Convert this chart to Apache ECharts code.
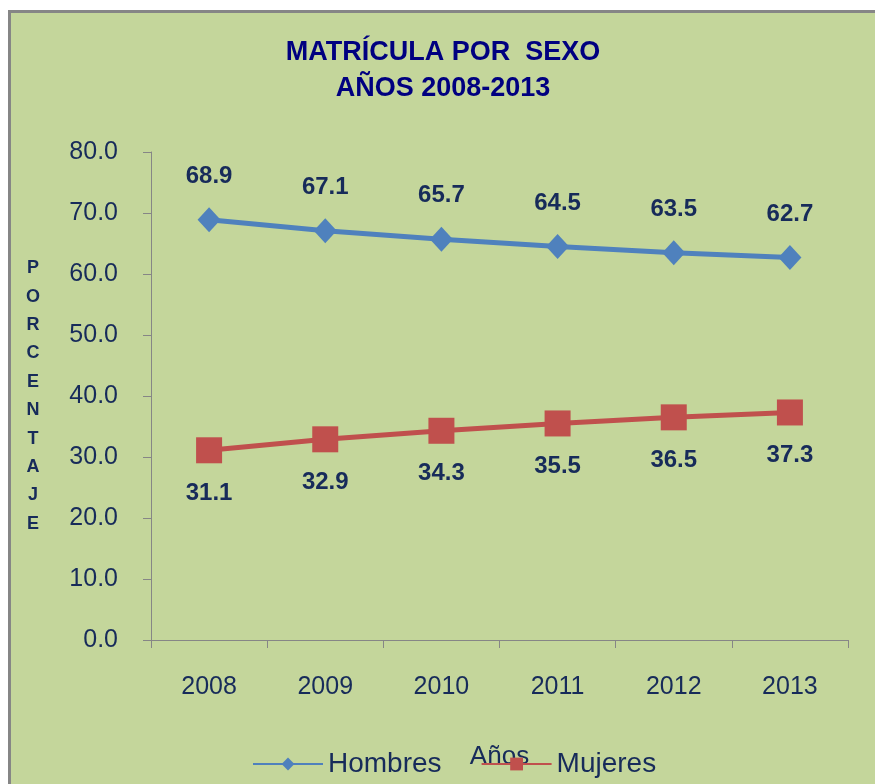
<!DOCTYPE html>
<html>
<head>
<meta charset="utf-8">
<script src="https://cdn.jsdelivr.net/npm/echarts@6/dist/echarts.min.js"></script>
<style>
  html, body { margin: 0; padding: 0; background: #ffffff; width: 875px; height: 784px; overflow: hidden; }
  #frame { position: absolute; left: 8px; top: 10px; width: 864px; height: 771px;
           border-left: 3px solid #868686; border-top: 3px solid #868686; background: #C4D69B; }
  #chart { width: 864px; height: 771px; }
</style>
</head>
<body>
<div id="frame"><div id="chart"></div></div>
<script>
const categories = ['2008', '2009', '2010', '2011', '2012', '2013'];
const hombres = [68.9, 67.1, 65.7, 64.5, 63.5, 62.7];
const mujeres = [31.1, 32.9, 34.3, 35.5, 36.5, 37.3];
const yTicks = { min: 0, max: 80, interval: 10 };

const navy = '#172B5A';
const font = 'Liberation Sans, Arial, sans-serif';

const chart = echarts.init(document.getElementById('chart'));
chart.setOption({
  backgroundColor: '#C4D69B',
  animation: false,
  textStyle: { fontFamily: font },
  title: {
    text: 'MATRÍCULA POR  SEXO\nAÑOS 2008-2013',
    left: 'center',
    top: 22,
    padding: 0,
    textStyle: { fontFamily: font, fontWeight: 'bold', fontSize: 27, color: '#000080', lineHeight: 36 }
  },
  legend: {
    data: ['Hombres', 'Mujeres'],
    left: 241,
    top: 737,
    itemWidth: 70,
    itemHeight: 16,
    itemGap: 39,
    padding: 0,
    textStyle: { fontFamily: font, fontSize: 28, color: navy, padding: [0, 0, 0, 0] }
  },
  grid: { left: 140, top: 139, right: 27, bottom: 144, containLabel: false },
  xAxis: {
    type: 'category',
    data: categories,
    boundaryGap: true,
    name: 'Años',
    nameLocation: 'middle',
    nameGap: 104,
    nameTextStyle: { fontFamily: font, fontSize: 26, color: navy },
    axisLine: { lineStyle: { color: '#868686', width: 1 } },
    axisTick: { show: true, length: 8, alignWithLabel: false, lineStyle: { color: '#868686' } },
    axisLabel: { fontFamily: font, fontSize: 25, color: navy, margin: 35 },
    splitLine: { show: false }
  },
  yAxis: {
    type: 'value',
    min: yTicks.min,
    max: yTicks.max,
    interval: yTicks.interval,
    name: 'P\nO\nR\nC\nE\nN\nT\nA\nJ\nE',
    nameLocation: 'middle',
    nameRotate: 0,
    nameGap: 118,
    nameTextStyle: { fontFamily: font, fontWeight: 'bold', fontSize: 18, color: navy, lineHeight: 28.4, align: 'center', verticalAlign: 'middle' },
    axisLine: { show: true, lineStyle: { color: '#868686', width: 1 } },
    axisTick: { show: true, length: 8, lineStyle: { color: '#868686' } },
    axisLabel: { fontFamily: font, fontSize: 25, color: navy, margin: 33, formatter: v => v.toFixed(1) },
    splitLine: { show: false }
  },
  series: [
    {
      name: 'Hombres',
      type: 'line',
      data: hombres,
      symbol: 'diamond',
      symbolSize: [23, 25],
      lineStyle: { color: '#4F81BD', width: 5 },
      itemStyle: { color: '#4F81BD' },
      label: { show: true, position: 'top', distance: 19, fontFamily: font, fontWeight: 'bold', fontSize: 24, color: navy, formatter: p => p.value.toFixed(1) }
    },
    {
      name: 'Mujeres',
      type: 'line',
      data: mujeres,
      symbol: 'rect',
      symbolSize: 26,
      lineStyle: { color: '#C0504D', width: 5 },
      itemStyle: { color: '#C0504D' },
      label: { show: true, position: 'bottom', distance: 18, fontFamily: font, fontWeight: 'bold', fontSize: 24, color: navy, formatter: p => p.value.toFixed(1) }
    }
  ]
});
</script>
</body>
</html>
